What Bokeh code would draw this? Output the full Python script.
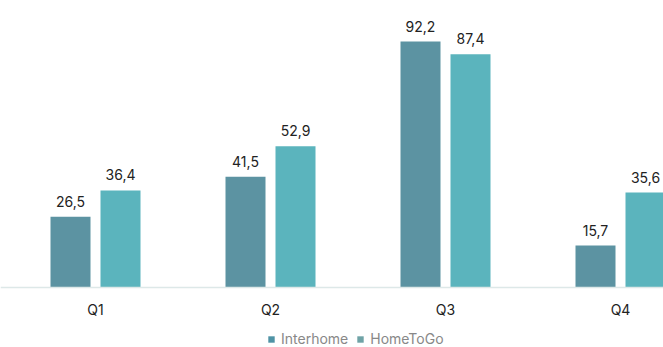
from bokeh.plotting import figure
from bokeh.models import ColumnDataSource, Range1d, Legend, LegendItem, LabelSet, Span
from bokeh.core.properties import value
from bokeh.embed import file_html
from bokeh.resources import INLINE

quarters = ["Q1", "Q2", "Q3", "Q4"]
interhome = [26.5, 41.5, 92.2, 15.7]
hometogo = [36.4, 52.9, 87.4, 35.6]
series_names = ["Interhome", "HomeToGo"]

FONT = "Inter"
c_int = "#5c93a2"
c_htg = "#5bb4bd"

idx = list(range(len(quarters)))
off = 25 / 175
bw = 40 / 175
scale = 2.668  # px per unit

src_i = ColumnDataSource(dict(x=[i - off for i in idx], top=interhome,
                              lbl=[f"{v:.1f}".replace(".", ",") for v in interhome]))
src_h = ColumnDataSource(dict(x=[i + off for i in idx], top=hometogo,
                              lbl=[f"{v:.1f}".replace(".", ",") for v in hometogo]))
src_q = ColumnDataSource(dict(x=idx, y=[0] * len(idx), q=quarters))

p = figure(width=663, height=347, output_backend="svg", toolbar_location=None,
           x_range=Range1d(-95 / 175, (663 - 95) / 175),
           y_range=Range1d(-60 / scale, 287 / scale),
           min_border_left=0, min_border_right=0, min_border_top=0, min_border_bottom=0)
p.outline_line_color = None
p.grid.visible = False
p.axis.visible = False
p.background_fill_color = "white"
p.border_fill_color = "white"

p.vbar(x="x", top="top", width=bw, bottom=0, source=src_i, color=c_int, line_color=None)
p.vbar(x="x", top="top", width=bw, bottom=0, source=src_h, color=c_htg, line_color=None)

p.add_layout(Span(location=0, dimension="width", line_color="#dde8e8", line_width=1.5))

for s in (src_i, src_h):
    p.add_layout(LabelSet(x="x", y="top", text="lbl", source=s, text_align="center",
                          text_baseline="bottom", y_offset=10, text_font=value(FONT),
                          text_font_size="14px", text_color="#222222"))

p.text(x="x", y="y", text="q", source=src_q, text_align="center",
       text_baseline="middle", y_offset=22, text_font=value(FONT),
       text_font_size="14px", text_color="#222222")

# legend swatches (off-screen area glyphs, drawn only in the legend)
r1 = p.quad(left=[-10], right=[-9.9], bottom=[-100], top=[-99], color="#4f93a5", line_color=None)
r2 = p.quad(left=[-10], right=[-9.9], bottom=[-100], top=[-99], color="#6fa3a6", line_color=None)
legend = Legend(items=[LegendItem(label=series_names[0], renderers=[r1]),
                       LegendItem(label=series_names[1], renderers=[r2])],
                orientation="horizontal", location=(267, 0),
                label_text_font=FONT, label_text_font_size="14px",
                label_text_color="#888888", glyph_width=8, glyph_height=8,
                label_standoff=6, spacing=8, padding=0, margin=0,
                label_height=14, border_line_color=None, background_fill_alpha=0)
p.add_layout(legend, "center")

open("out.html", "w").write(file_html(p, INLINE))
